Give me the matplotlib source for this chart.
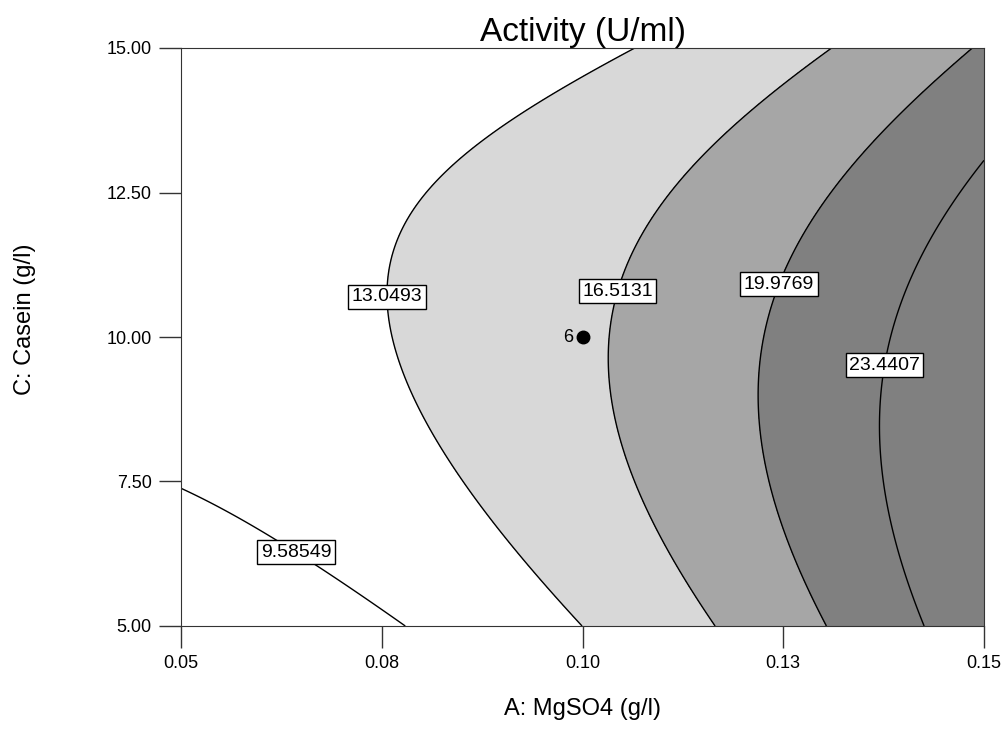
import numpy as np
import matplotlib
matplotlib.use("Agg")
import matplotlib.pyplot as plt

plt.rcParams['font.family'] = ['Liberation Sans', 'DejaVu Sans']

# factor ranges (actual units)
a_range = [0.05, 0.15]
c_range = [5.0, 15.0]

# response model in coded units (a, c in -1..1)
coef_terms = ['I', 'A', 'C', 'A2', 'C2', 'AC', 'AC2', 'A2C2']
coef_values = [16.0, 7.55, -0.33, 2.8, -3.27, -2.4, -0.6, 0.55]

# contour levels shown in the picture
levels = [9.58549, 13.0493, 16.5131, 19.9769, 23.4407]
fill_colors = ['#ffffff', '#d8d8d8', '#a6a6a6', '#808080']

# label anchor positions (A, C) for each level
label_pos = [(0.0657, 6.57), (0.0747, 10.69), (0.1038, 10.81), (0.1241, 10.93), (0.1372, 9.52)]

# design point
design_a = [0.10]
design_c = [10.0]
design_reps = ['6']

x_ticks = [0.05, 0.075, 0.10, 0.125, 0.15]
x_tick_labels = ['0.05', '0.08', '0.10', '0.13', '0.15']
y_ticks = [5.0, 7.5, 10.0, 12.5, 15.0]
y_tick_labels = ['5.00', '7.50', '10.00', '12.50', '15.00']


def response(A, C):
    a = (A - 0.10) / 0.05
    c = (C - 10.0) / 5.0
    k = dict(zip(coef_terms, coef_values))
    return (k['I'] + k['A'] * a + k['C'] * c + k['A2'] * a ** 2 + k['C2'] * c ** 2
            + k['AC'] * a * c + k['AC2'] * a * c ** 2 + k['A2C2'] * a ** 2 * c ** 2)


A, C = np.meshgrid(np.linspace(*a_range, 301), np.linspace(*c_range, 301))
Z = response(A, C)

fig = plt.figure(figsize=(10.08, 7.56), dpi=100)
ax = fig.add_axes([181 / 1008, 1 - 626 / 756, 803 / 1008, 578 / 756])

fill_levels = [min(Z.min(), levels[0]) - 1] + levels[1:4] + [Z.max() + 1]
ax.contourf(A, C, Z, levels=fill_levels, colors=fill_colors)
cs = ax.contour(A, C, Z, levels=levels, colors='black', linewidths=1.0)

fmt = {lv: f'{lv:g}' for lv in levels}
texts = ax.clabel(cs, levels, inline=False, fmt=fmt, fontsize=14, manual=label_pos)
for t in texts:
    t.set_rotation(0)
    t.set_bbox(dict(facecolor='white', edgecolor='black', linewidth=1.0, pad=2.5))

ax.plot(design_a, design_c, 'o', color='black', ms=9, zorder=5)
for xa, yc, rep in zip(design_a, design_c, design_reps):
    ax.annotate(rep, (xa, yc), xytext=(-7, 0), textcoords='offset points',
                ha='right', va='center', fontsize=13)

ax.set_xlim(a_range)
ax.set_ylim(c_range)
ax.set_xticks(x_ticks)
ax.set_xticklabels(x_tick_labels)
ax.set_yticks(y_ticks)
ax.set_yticklabels(y_tick_labels)
ax.tick_params(direction='out', length=16, width=1, labelsize=13, pad=5, color='#333333')
for sp in ax.spines.values():
    sp.set_color('#333333')

ax.set_title('Activity (U/ml)', fontsize=24, pad=2)
ax.set_xlabel('A: MgSO4 (g/l)', fontsize=17)
ax.set_ylabel('C: Casein (g/l)', fontsize=17)
ax.xaxis.set_label_coords(0.5, -0.125)
ax.yaxis.set_label_coords(-0.181, 0.53)

fig.savefig('out.png', dpi=100)
